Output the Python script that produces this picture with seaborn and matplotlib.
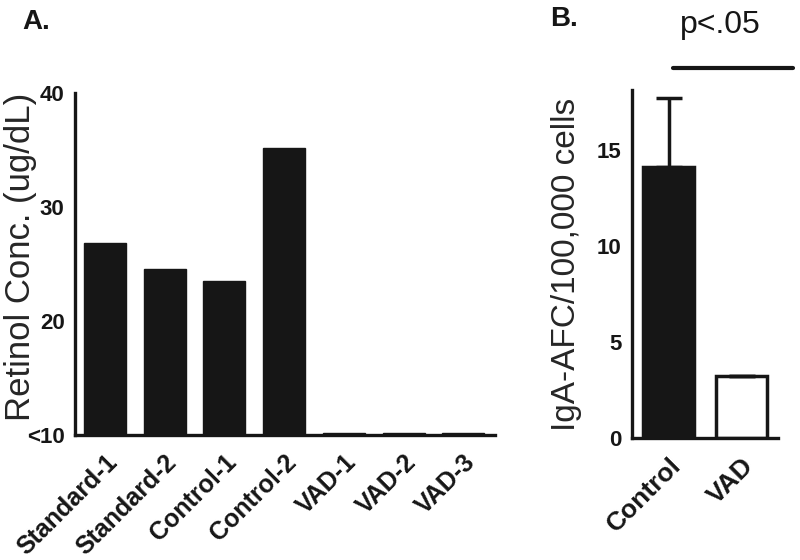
import matplotlib
matplotlib.use("Agg")
import matplotlib.pyplot as plt
import seaborn as sns
import pandas as pd
from matplotlib.lines import Line2D

# ---- data ----
samples = ["Standard-1", "Standard-2", "Control-1", "Control-2", "VAD-1", "VAD-2", "VAD-3"]
retinol = [26.8, 24.6, 23.5, 35.2, 10.15, 10.15, 10.15]
a_ticks = [10, 20, 30, 40]
a_ticklabels = ["<10", "20", "30", "40"]

groups = ["Control", "VAD"]
afc_mean = [14.1, 3.2]
afc_err = [3.6, 0.05]
b_ticks = [0, 5, 10, 15]
p_text = "p<.05"

sns.set_theme(style="white")
plt.rcParams["font.family"] = ["Liberation Sans", "DejaVu Sans"]

fig = plt.figure(figsize=(8, 5.6), dpi=100)

LW = 2.4
# ---- Panel A ----
axA = fig.add_axes([75/800, 1-435/560, 420/800, (435-93)/560])
dfA = pd.DataFrame({"sample": samples, "retinol": retinol})
sns.barplot(data=dfA, x="sample", y="retinol", ax=axA, color="#161616",
            width=0.7, edgecolor="#161616", linewidth=1.0, saturation=1)
axA.set_ylim(10, 40)
axA.set_xlim(-0.5, 6.53)
axA.set_yticks(a_ticks)
axA.set_yticklabels(a_ticklabels, fontsize=16, fontweight="bold")
axA.set_xticks(range(len(samples)))
axA.set_xticklabels(samples, rotation=45, ha="right", rotation_mode="anchor",
                    fontsize=18, fontweight="bold")
axA.set_xlabel("")
axA.set_ylabel("Retinol Conc. (ug/dL)", fontsize=25)
axA.yaxis.set_label_coords(-0.09, 0.52)

# ---- Panel B ----
axB = fig.add_axes([632/800, 1-438/560, 146/800, (438-90)/560])
dfB = pd.DataFrame({"group": groups, "afc": afc_mean})
sns.barplot(data=dfB, x="group", y="afc", ax=axB, hue="group",
            palette=["#161616", "white"], legend=False,
            width=0.71, edgecolor="#161616", linewidth=2.5, saturation=1)
axB.errorbar(range(len(groups)), afc_mean, yerr=[[0]*len(groups), afc_err],
             fmt="none", ecolor="#161616", elinewidth=2.5, capsize=9.5,
             capthick=2.5, zorder=1)
axB.set_ylim(0, 18.1)
axB.set_xlim(-0.5, 1.5)
axB.set_yticks(b_ticks)
axB.set_yticklabels([str(t) for t in b_ticks], fontsize=16, fontweight="bold")
axB.set_xticks(range(len(groups)))
axB.set_xticklabels(groups, rotation=45, ha="right", rotation_mode="anchor",
                    fontsize=19, fontweight="bold")
axB.set_xlabel("")
axB.set_ylabel("IgA-AFC/100,000 cells", fontsize=24)
axB.yaxis.set_label_coords(-0.345, 0.5)

for ax in (axA, axB):
    sns.despine(ax=ax)
    for s in ("left", "bottom"):
        ax.spines[s].set_linewidth(LW)
        ax.spines[s].set_color("#161616")
    ax.tick_params(axis="both", direction="out", length=6, width=LW,
                   color="#161616", labelcolor="#161616", pad=1.5)
    ax.tick_params(axis="x", pad=5)

# panel letters and significance
fig.text(22/800, 1-22/560, "A.", fontsize=20, fontweight="bold", ha="left", va="center", color="#161616")
fig.text(550/800, 1-19/560, "B.", fontsize=20, fontweight="bold", ha="left", va="center", color="#161616")
fig.text(720/800, 1-25/560, p_text, fontsize=23, ha="center", va="center", color="#161616")
fig.add_artist(Line2D([673/800, 793/800], [1-68/560, 1-68/560], color="#161616",
                      linewidth=3, solid_capstyle="round"))

fig.savefig("out.png", dpi=100)
